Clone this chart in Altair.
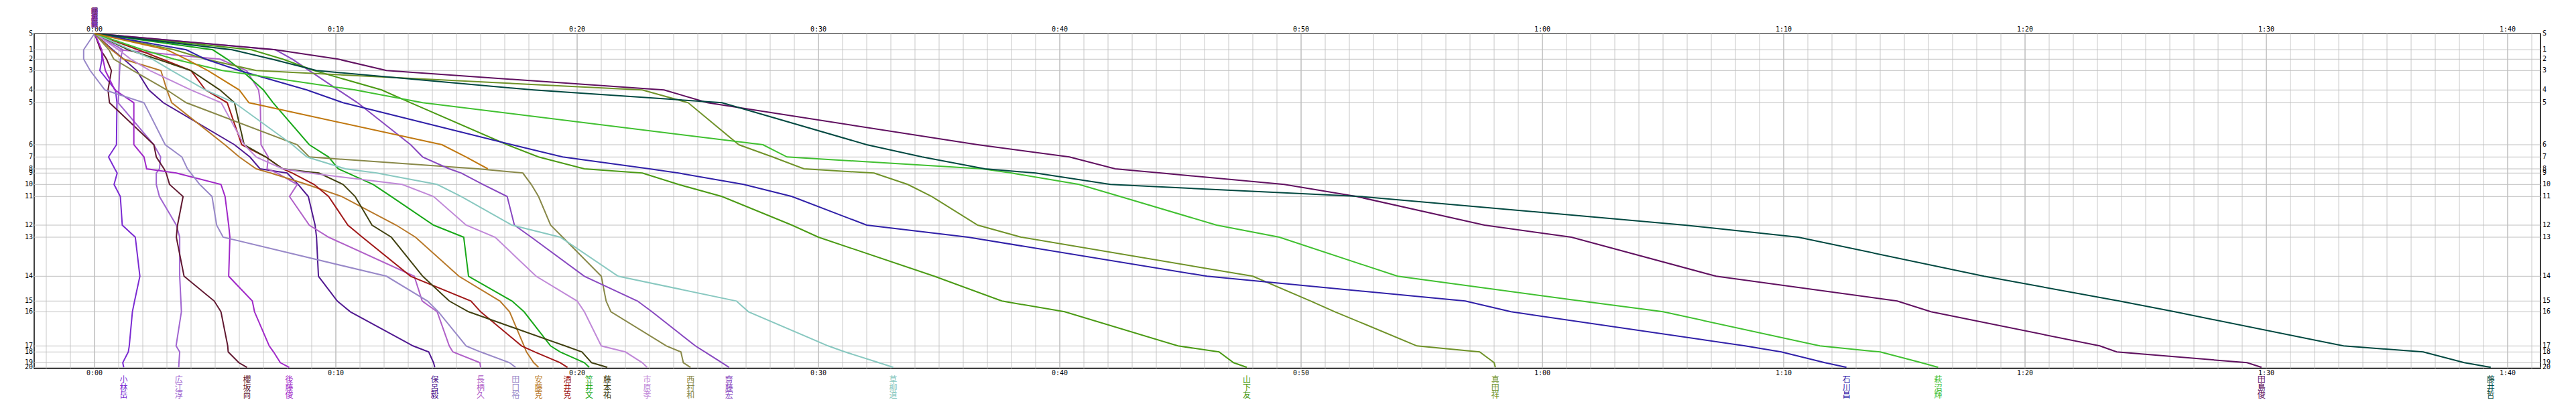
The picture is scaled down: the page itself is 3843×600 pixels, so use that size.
import altair as alt
import pandas as pd

# ---------------- data ----------------
station_labels = ["S"] + [str(i) for i in range(1, 21)]
# relative cumulative leg distance (vertical spacing of control rows)
station_pos = [0, 24.3, 38.3, 55.3, 84.3, 103.3, 166, 184.3, 202, 208.3, 225.3,
               243.3, 286, 304, 362.3, 399.3, 415.3, 466.3, 475.3, 491.3, 498.3]

names = ["小林岳", "広江淳", "櫻坂尚", "後藤俊", "保呂毅", "長柄久", "田口裕", "安藤克",
         "酒井克", "笠井文", "藤本祐", "市原孝", "西村和", "齋藤宏", "草柳道", "山下友",
         "真田祥", "石川昌", "萩沼輝", "田島俊", "藤井哲"]
colors = ["#7B2BD2", "#A064D0", "#601830", "#A028C8", "#501890", "#B060C8", "#9888C8",
          "#B87828", "#A01818", "#18A818", "#404010", "#C088D8", "#888848", "#8848C0",
          "#88C8C0", "#4A9A14", "#6F9228", "#3020A8", "#40C030", "#601060", "#004840"]

# time behind (minutes) at S,1..20 for each runner
behind = {
    "小林岳": [0, 0.29, 0.31, 0.22, 0.87, 0.93, 0.91, 0.58, 0.84, 0.94, 0.81, 1.07, 1.15, 1.69, 1.88, 1.66, 1.57, 1.44, 1.40, 1.17, 1.21],
    "広江淳": [0, 1.17, 1.07, 1.04, 1.01, 0.98, 2.46, 2.74, 2.69, 2.56, 2.56, 2.69, 3.39, 3.53, 3.53, 3.58, 3.60, 3.38, 3.53, 3.50, 3.49],
    "櫻坂尚": [0, 0.25, 0.5, 0.7, 0.56, 0.62, 2.46, 2.56, 2.88, 2.97, 3.11, 3.67, 3.44, 3.39, 3.71, 4.96, 5.24, 5.52, 5.54, 5.98, 6.32],
    "後藤俊": [0, 0.3, 0.35, 0.45, 0.84, 1.63, 1.63, 2.05, 2.16, 3.39, 5.24, 5.41, 5.56, 5.61, 5.56, 6.54, 6.63, 7.24, 7.42, 7.70, 8.07],
    "保呂毅": [0, 0.75, 1.21, 1.75, 2.25, 2.85, 5.8, 6.44, 6.86, 7.98, 8.44, 8.86, 9.14, 9.2, 9.28, 10.06, 10.6, 13.2, 13.85, 14.05, 14.1],
    "長柄久": [0, 1.0, 5.2, 6.3, 6.8, 6.87, 6.9, 7.2, 7.15, 7.57, 8.4, 8.08, 8.9, 9.7, 13.25, 13.58, 14.2, 14.7, 14.85, 15.97, 16.0],
    "田口裕": [0, -0.45, -0.45, -0.18, 0.43, 2.05, 2.93, 3.62, 3.85, 3.99, 4.36, 4.87, 5.06, 5.33, 12.1, 13.8, 14.25, 15.4, 16.0, 17.2, 17.45],
    "安藤克": [0, 0.7, 1.2, 2.75, 3.0, 3.2, 5.4, 6.0, 6.7, 7.3, 8.8, 10.25, 12.5, 13.3, 15.1, 16.8, 17.2, 17.8, 17.9, 18.2, 18.4],
    "酒井克": [0, 1.8, 2.8, 4.0, 4.6, 5.5, 6.1, 7.1, 7.8, 8.2, 9.1, 9.7, 10.5, 11.1, 13.1, 15.6, 16.0, 17.7, 18.25, 19.3, 19.6],
    "笠井文": [0, 4.9, 5.5, 6.1, 7.0, 7.4, 8.9, 9.7, 10.1, 10.5, 11.55, 12.3, 14.05, 15.3, 15.5, 17.3, 17.8, 18.9, 19.3, 20.3, 20.5],
    "藤本祐": [0, 1.4, 2.6, 4.0, 5.2, 5.8, 6.2, 7.1, 7.8, 9.3, 10.3, 10.8, 11.5, 12.3, 13.6, 14.7, 15.5, 19.5, 20.2, 20.6, 21.25],
    "市原孝": [0, 1.0, 1.5, 2.3, 4.0, 5.25, 6.2, 6.7, 7.8, 8.9, 12.75, 14.05, 15.4, 16.6, 18.3, 20.0, 20.3, 21.0, 22.0, 22.7, 22.9],
    "西村和": [0, 0.6, 0.8, 1.6, 3.0, 3.8, 8.4, 8.9, 15.9, 17.75, 18.1, 18.4, 18.9, 19.4, 21.0, 21.2, 21.4, 23.7, 24.3, 24.4, 24.7],
    "齋藤宏": [0, 7.5, 8.2, 8.9, 10.1, 10.9, 13.1, 13.6, 14.7, 15.2, 16.1, 17.1, 17.4, 18.1, 20.3, 22.5, 23.1, 24.9, 25.3, 26.0, 26.3],
    "草柳道": [0, 1.5, 2.4, 3.2, 4.6, 5.8, 8.2, 8.8, 10.4, 11.7, 14.2, 15.2, 17.3, 19.3, 21.7, 26.6, 27.1, 30.4, 31.1, 32.5, 33.1],
    "山下友": [0, 6.5, 7.8, 9.1, 11.9, 13.1, 17.1, 18.4, 20.3, 22.7, 24.2, 26.0, 28.9, 30.0, 34.8, 37.6, 40.2, 44.9, 46.6, 47.2, 47.75],
    "真田祥": [0, 3.3, 4.6, 6.7, 22.7, 24.6, 26.7, 28.1, 29.4, 32.3, 33.7, 34.7, 36.6, 38.4, 48.0, 50.4, 51.4, 54.8, 57.4, 58.0, 58.05],
    "石川昌": [0, 3.8, 4.6, 6.0, 8.8, 10.3, 17.3, 19.4, 23.0, 24.2, 26.9, 28.9, 32.0, 36.2, 46.1, 56.8, 58.7, 68.4, 69.9, 71.7, 72.6],
    "萩沼輝": [0, 2.0, 3.3, 5.3, 10.8, 13.6, 27.7, 28.7, 36.8, 38.0, 40.8, 42.5, 46.5, 49.1, 54.0, 61.6, 65.0, 71.5, 74.0, 75.7, 76.4],
    "田島俊": [0, 7.5, 10.1, 12.1, 23.6, 25.4, 36.6, 40.4, 42.3, 44.2, 49.3, 52.3, 57.6, 61.2, 67.2, 74.7, 76.1, 83.1, 83.8, 89.2, 89.8],
    "藤井哲": [0, 5.7, 7.35, 9.2, 18.2, 26.0, 32.0, 34.3, 36.9, 39.0, 42.1, 52.5, 65.9, 70.6, 78.3, 83.9, 86.2, 93.2, 96.5, 98.2, 99.3],
}
# runner without finish (stops at control 8)
dnf_name = "(失格)"
dnf_color = "#C07810"
dnf_behind = [0, 3.0, 3.8, 4.7, 6.0, 6.4, 14.4, 15.4, 16.3]

time_ticks = list(range(0, 101, 10))
time_labels = ["0:00", "0:10", "0:20", "0:30", "0:40", "0:50", "1:00", "1:10", "1:20", "1:30", "1:40"]
minor_ticks = [m for m in range(-2, 102) if m % 10 != 0]

# ---------------- tables ----------------
rows = []
for n in names:
    for i, v in enumerate(behind[n]):
        rows.append({"name": n, "idx": i, "t": v, "pos": station_pos[i]})
for i, v in enumerate(dnf_behind):
    rows.append({"name": dnf_name, "idx": i, "t": v, "pos": station_pos[i]})
df = pd.DataFrame(rows)

fin = pd.DataFrame({"name": names, "t": [behind[n][-1] for n in names],
                    "label": ["\n".join(n) for n in names]})
# start-time names all overlap at 0:00 (drawn so the leader ends on top)
start_names = fin.iloc[::-1].reset_index(drop=True)
start_names["t0"] = [behind[n][0] for n in start_names["name"]]
st = pd.DataFrame({"pos": station_pos, "label": station_labels})
tt = pd.DataFrame({"t": time_ticks, "label": time_labels})
mn = pd.DataFrame({"t": minor_ticks})

W, H = 3739, 500
xs = alt.Scale(domain=[-2.5, 101.36], nice=False, zero=False)
ys = alt.Scale(domain=[0, 500], nice=False, zero=False, reverse=True)
cs = alt.Scale(domain=names + [dnf_name], range=colors + [dnf_color])
X = lambda f="t": alt.X(f"{f}:Q", scale=xs, axis=None)
Y = lambda f="pos": alt.Y(f"{f}:Q", scale=ys, axis=None)
FONT = "DejaVu Sans Mono"
JP = "Noto Sans CJK JP"

minor = alt.Chart(mn).mark_rule(color="#C8C8C8", strokeWidth=1).encode(
    x=X(), y=alt.value(0), y2=alt.value(H))
major = alt.Chart(tt).mark_rule(color="#9C9C9C", strokeWidth=1).encode(
    x=X(), y=alt.value(0), y2=alt.value(H))
hgrid = alt.Chart(st).mark_rule(color="#C0C0C0", strokeWidth=1).encode(
    y=Y(), x=alt.value(0), x2=alt.value(W))

lines = alt.Chart(df).mark_line(strokeWidth=2, interpolate="linear").encode(
    x=X(), y=Y(), color=alt.Color("name:N", scale=cs, legend=None),
    detail="name:N", order="idx:Q")

top_t = alt.Chart(tt).mark_text(font=FONT, fontSize=10, baseline="middle", color="black").encode(
    x=X(), y=alt.value(-6), text="label:N")
bot_t = alt.Chart(tt).mark_text(font=FONT, fontSize=10, baseline="middle", color="black").encode(
    x=X(), y=alt.value(507), text="label:N")
left_s = alt.Chart(st).mark_text(font=FONT, fontSize=10, baseline="middle", align="right", color="black").encode(
    y=Y(), x=alt.value(-2), text="label:N")
right_s = alt.Chart(st).mark_text(font=FONT, fontSize=10, baseline="middle", align="left", color="black").encode(
    y=Y(), x=alt.value(W + 3), text="label:N")

names_bot = alt.Chart(fin).mark_text(font=JP, fontSize=12, lineHeight=11.7, lineBreak="\n",
                                     baseline="top", align="center").encode(
    x=X(), y=alt.value(512), text="label:N",
    color=alt.Color("name:N", scale=cs, legend=None))
names_top = alt.Chart(start_names).mark_text(font=JP, fontSize=10, lineHeight=10, lineBreak="\n",
                                             baseline="top", align="center", opacity=0.7).encode(
    x=X("t0"), y=alt.value(-38), text="label:N",
    color=alt.Color("name:N", scale=cs, legend=None))

chart = alt.layer(minor, major, hgrid, lines, top_t, bot_t, left_s, right_s, names_bot, names_top).properties(
    width=W, height=H,
    autosize=alt.AutoSizeParams(type="none"),
    padding={"left": 43, "top": 42, "right": 45, "bottom": 50},
    background="white",
).configure_view(stroke="black", strokeWidth=1.5)

chart.save("out.html", embed_options={"renderer": "svg", "actions": False})
